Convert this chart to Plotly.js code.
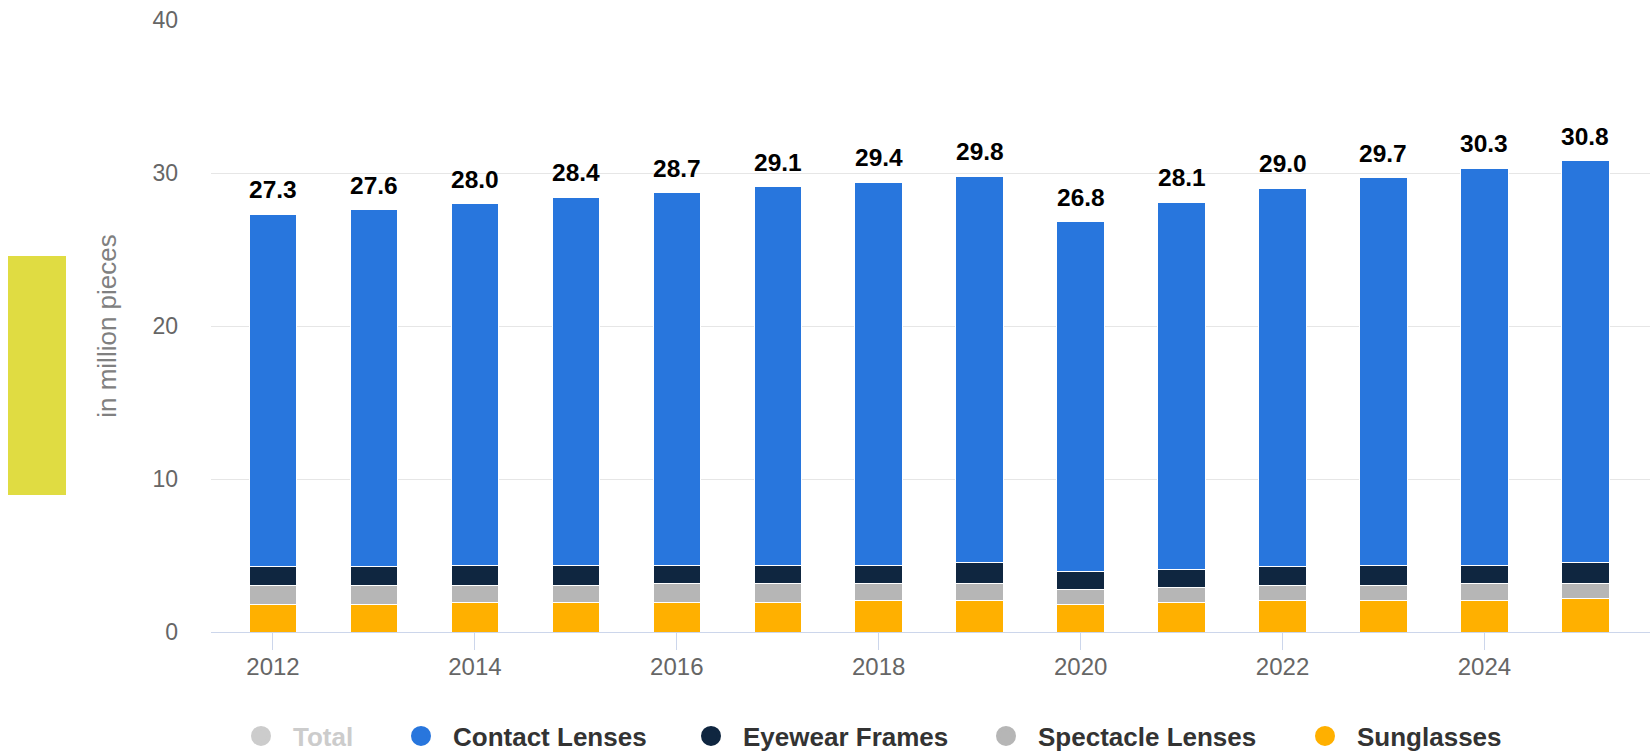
<!DOCTYPE html>
<html>
<head>
<meta charset="utf-8">
<script src="https://cdn.plot.ly/plotly-3.0.1.min.js"></script>
<style>
  html, body { margin: 0; padding: 0; background: #fff; }
  #chart { width: 1652px; height: 752px; position: relative; }
  #marker { position: absolute; left: 8px; top: 256px; width: 58px; height: 239px; background: #e0dc42; z-index: 5; }
</style>
</head>
<body>
<div id="marker"></div>
<div id="chart"></div>
<script>
// ---- data ----
const years = [2012, 2013, 2014, 2015, 2016, 2017, 2018, 2019, 2020, 2021, 2022, 2023, 2024, 2025];
const totals = [27.3, 27.6, 28.0, 28.4, 28.7, 29.1, 29.4, 29.8, 26.8, 28.1, 29.0, 29.7, 30.3, 30.8];
const sunglasses = [1.80, 1.80, 1.93, 1.93, 1.94, 1.94, 2.06, 2.06, 1.80, 1.93, 2.06, 2.06, 2.06, 2.19];
const spectacleLenses = [1.26, 1.26, 1.13, 1.13, 1.25, 1.25, 1.13, 1.13, 0.99, 0.97, 1.00, 1.00, 1.13, 1.00];
const eyewearFrames = [1.19, 1.19, 1.30, 1.30, 1.17, 1.17, 1.17, 1.34, 1.15, 1.17, 1.19, 1.30, 1.17, 1.35];
const contactLenses = [23.05, 23.35, 23.64, 24.04, 24.34, 24.74, 25.04, 25.27, 22.86, 24.03, 24.75, 25.34, 25.94, 26.26];
const seriesNames = ['Total', 'Contact Lenses', 'Eyewear Frames', 'Spectacle Lenses', 'Sunglasses'];
const yTitle = 'in million pieces';

// ---- styles ----
const colors = {
  'Total': '#cccccc',
  'Contact Lenses': '#2876dd',
  'Eyewear Frames': '#0f2640',
  'Spectacle Lenses': '#b6b6b6',
  'Sunglasses': '#ffb000'
};
const FONT = '"Liberation Sans", Arial, Helvetica, sans-serif';
const W = 1652, H = 752;
const M = { l: 211, r: 2, t: 20, b: 120, autoexpand: false };
const plotW = W - M.l - M.r, plotH = H - M.t - M.b;
const px2x = p => (p - M.l) / plotW;
const py2y = p => (H - M.b - p) / plotH;

function barTrace(name, vals) {
  return {
    type: 'bar', name: name, x: years, y: vals,
    width: 0.47,
    marker: { color: colors[name], line: { color: '#ffffff', width: 1 } },
    showlegend: false, hoverinfo: 'skip'
  };
}

const traces = [
  barTrace('Sunglasses', sunglasses),
  barTrace('Spectacle Lenses', spectacleLenses),
  barTrace('Eyewear Frames', eyewearFrames),
  barTrace('Contact Lenses', contactLenses)
];

// legend entries (circle symbols), one legend each for exact placement
const legendCenters = [261, 421, 711, 1006, 1325];
const legendKeys = ['legend', 'legend2', 'legend3', 'legend4', 'legend5'];
seriesNames.forEach((n, i) => {
  traces.push({
    type: 'scatter', mode: 'markers', name: n, x: [null], y: [null],
    marker: { color: colors[n], size: 16, symbol: 'circle', line: { color: colors[n], width: 4 } },
    legend: legendKeys[i], showlegend: true, hoverinfo: 'skip'
  });
});

const layout = {
  width: W, height: H,
  margin: M,
  paper_bgcolor: '#ffffff', plot_bgcolor: '#ffffff',
  barmode: 'stack',
  font: { family: FONT, color: '#666666', size: 24 },
  xaxis: {
    range: [2011.386, 2025.64],
    tickmode: 'linear', tick0: 2012, dtick: 2,
    showgrid: false, zeroline: false,
    showline: true, linecolor: '#ccd6eb', linewidth: 1,
    ticks: 'outside', ticklen: 17, tickcolor: '#ccd6eb', tickwidth: 1,
    tickfont: { family: FONT, size: 24, color: '#666666' },
    ticklabelstandoff: -4,
    fixedrange: true
  },
  yaxis: {
    range: [0, 40],
    tickmode: 'linear', tick0: 0, dtick: 10,
    showgrid: true, gridcolor: '#e6e6e6', gridwidth: 1,
    zeroline: false, showline: false,
    ticks: '', ticklabelstandoff: 32,
    tickfont: { family: FONT, size: 23, color: '#666666' },
    title: { text: yTitle, font: { family: FONT, size: 26, color: '#808080' }, standoff: 28 },
    fixedrange: true
  },
  annotations: years.map((yr, i) => ({
    x: yr, y: totals[i], xref: 'x', yref: 'y',
    text: totals[i].toFixed(1), showarrow: false,
    yanchor: 'bottom', xanchor: 'center', yshift: 9,
    font: { family: FONT, size: 24.5, color: '#000000', weight: 'bold' }
  }))
};

legendKeys.forEach((k, i) => {
  layout[k] = {
    orientation: 'h',
    x: px2x(legendCenters[i] - 32), xanchor: 'left',
    y: py2y(736), yanchor: 'middle',
    itemwidth: 54,
    bgcolor: 'rgba(0,0,0,0)', borderwidth: 0,
    font: { family: FONT, size: 26, color: i === 0 ? '#cccccc' : '#333333', weight: 'bold' },
    itemclick: false, itemdoubleclick: false
  };
});

Plotly.newPlot('chart', traces, layout, { displayModeBar: false, staticPlot: true });
</script>
</body>
</html>
